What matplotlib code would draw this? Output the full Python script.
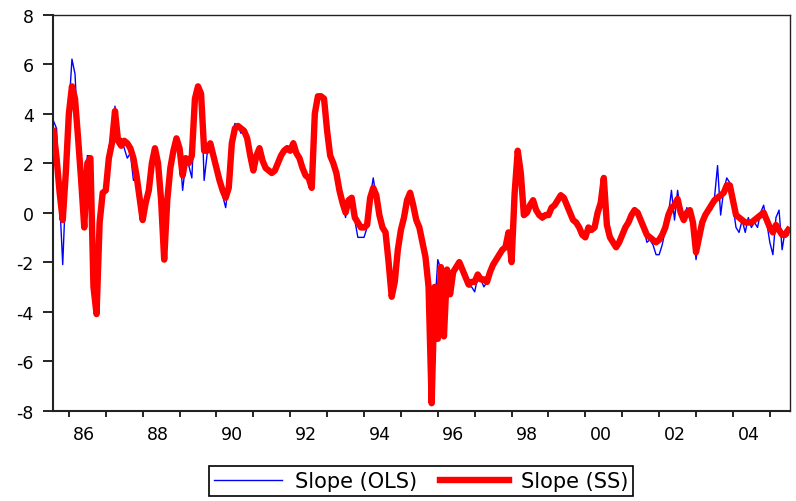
import matplotlib
matplotlib.use("Agg")
import matplotlib.pyplot as plt
import numpy as np

plt.rcParams['font.family'] = ['DejaVu Sans']
plt.rcParams['axes.unicode_minus'] = False

# Monthly observations, 1985:08 .. 2005:07
start_year, start_month = 1985, 8

ss_slope = [
    3.3, 2.2, 0.8, -0.3, 1.6,                                              # 1985 Aug-Dec
    4.0, 5.1, 4.6, 3.0, 1.3, -0.6, 2.0, 2.2, -3.0, -4.1, -0.4, 0.8,        # 1986
    0.9, 2.2, 2.8, 4.1, 2.9, 2.7, 2.9, 2.8, 2.6, 2.2, 1.5, 0.6,            # 1987
    -0.3, 0.4, 0.9, 2.0, 2.6, 2.0, 0.5, -1.9, 0.5, 1.8, 2.5, 3.0,          # 1988
    2.6, 1.5, 2.2, 2.0, 2.3, 4.6, 5.1, 4.8, 2.5, 2.5, 2.8, 2.3,            # 1989
    1.8, 1.3, 0.9, 0.6, 1.0, 2.8, 3.4, 3.5, 3.4, 3.3, 3.0, 2.3,            # 1990
    1.7, 2.3, 2.6, 2.1, 1.8, 1.7, 1.6, 1.7, 2.0, 2.3, 2.5, 2.6,            # 1991
    2.5, 2.8, 2.4, 2.2, 1.8, 1.5, 1.4, 1.0, 4.0, 4.7, 4.7, 4.6,            # 1992
    3.3, 2.3, 2.0, 1.6, 0.9, 0.4, 0.0, 0.5, 0.6, -0.2, -0.4, -0.6,         # 1993
    -0.6, -0.5, 0.6, 1.0, 0.7, -0.1, -0.6, -0.8, -2.0, -3.4, -2.8, -1.5,   # 1994
    -0.7, -0.2, 0.5, 0.8, 0.3, -0.3, -0.6, -1.2, -1.8, -3.0, -7.7, -3.0,   # 1995
    -5.1, -2.2, -5.0, -2.3, -3.3, -2.4, -2.2, -2.0, -2.3, -2.6, -2.9, -2.8,  # 1996
    -2.8, -2.5, -2.7, -2.7, -2.8, -2.4, -2.1, -1.9, -1.7, -1.5, -1.4, -0.8,  # 1997
    -2.0, 0.8, 2.5, 1.6, -0.1, 0.0, 0.3, 0.5, 0.1, -0.1, -0.2, -0.1,       # 1998
    -0.1, 0.2, 0.3, 0.5, 0.7, 0.6, 0.3, 0.0, -0.3, -0.4, -0.6, -0.9,       # 1999
    -1.0, -0.6, -0.7, -0.6, 0.0, 0.4, 1.4, -0.5, -1.0, -1.2, -1.4, -1.2,   # 2000
    -0.9, -0.6, -0.4, -0.1, 0.1, 0.0, -0.3, -0.6, -0.9, -1.0, -1.1, -1.2,  # 2001
    -1.1, -0.9, -0.6, -0.1, 0.2, 0.3, 0.55, 0.0, -0.3, 0.0, 0.1, -0.4,     # 2002
    -1.6, -1.0, -0.4, -0.1, 0.1, 0.3, 0.5, 0.6, 0.7, 0.8, 1.1, 1.1,        # 2003
    0.5, -0.1, -0.2, -0.3, -0.4, -0.4, -0.4, -0.3, -0.2, -0.1, 0.0, -0.3,  # 2004
    -0.6, -0.8, -0.5, -0.7, -0.9, -0.9, -0.7,                              # 2005 Jan-Jul
]

ols_slope = [
    3.7, 3.4, 0.5, -2.1, 1.0,                                              # 1985 Aug-Dec
    4.2, 6.2, 5.6, 3.0, 1.0, -0.6, 2.3, 2.3, -2.9, -4.1, -0.4, 0.7,        # 1986
    1.0, 2.7, 2.7, 4.3, 2.9, 3.0, 2.6, 2.2, 2.4, 1.3, 1.4, 0.6,            # 1987
    -0.3, 0.4, 0.6, 2.0, 2.6, 1.3, 0.5, -1.9, 0.6, 1.9, 2.3, 3.0,          # 1988
    2.6, 0.9, 2.0, 1.9, 1.4, 4.2, 5.0, 4.9, 1.3, 2.4, 2.8, 2.3,            # 1989
    1.8, 1.1, 0.7, 0.2, 1.2, 3.0, 3.6, 3.5, 3.2, 3.4, 2.9, 2.3,            # 1990
    1.7, 2.4, 2.7, 2.2, 1.8, 1.7, 1.5, 1.7, 2.0, 2.4, 2.6, 2.7,            # 1991
    2.6, 2.9, 2.6, 2.2, 1.8, 1.5, 1.4, 1.0, 3.9, 4.7, 4.7, 4.6,            # 1992
    3.4, 2.6, 2.1, 1.6, 0.9, 0.4, -0.2, 0.5, 0.6, -0.3, -1.0, -1.0,        # 1993
    -1.0, -0.6, 0.6, 1.4, 0.6, -0.1, -0.6, -0.8, -2.0, -3.4, -2.8, -1.5,   # 1994
    -0.6, -0.2, 0.6, 0.9, 0.3, -0.5, -0.8, -1.3, -2.0, -3.0, -7.7, -3.9,   # 1995
    -1.9, -2.3, -5.0, -2.3, -3.3, -2.5, -2.3, -2.1, -2.3, -2.7, -3.0, -3.0,  # 1996
    -3.2, -2.6, -2.7, -3.0, -2.8, -2.5, -2.1, -1.9, -1.7, -1.5, -1.4, -0.8,  # 1997
    -2.0, 0.8, 2.5, 1.6, -0.2, -0.1, 0.2, 0.5, 0.0, -0.2, -0.3, -0.2,      # 1998
    -0.1, 0.1, 0.3, 0.5, 0.8, 0.6, 0.2, -0.1, -0.3, -0.5, -0.6, -0.9,      # 1999
    -1.0, -0.6, -0.6, -0.5, 0.1, 0.6, 1.4, -0.4, -1.0, -1.2, -1.3, -1.1,   # 2000
    -0.9, -0.6, -0.4, -0.1, 0.2, 0.0, -0.3, -0.6, -1.2, -1.1, -1.3, -1.7,  # 2001
    -1.7, -1.3, -0.7, -0.1, 0.9, -0.3, 0.9, 0.0, -0.4, 0.2, 0.0, -0.6,     # 2002
    -1.9, -1.0, -0.3, -0.1, 0.2, 0.1, 0.6, 1.9, -0.1, 0.9, 1.4, 1.2,       # 2003
    0.3, -0.6, -0.8, -0.3, -0.8, -0.2, -0.6, -0.4, -0.6, 0.0, 0.3, -0.4,   # 2004
    -1.2, -1.7, -0.2, 0.1, -1.5, -0.7, -0.9,                               # 2005 Jan-Jul
]

year_ticks = list(range(1986, 2006))
year_labels = ['86', '88', '90', '92', '94', '96', '98', '00', '02', '04']
label_years = list(range(1986, 2005, 2))
y_ticks = [-8, -6, -4, -2, 0, 2, 4, 6, 8]

t = start_year + (start_month - 1) / 12 + np.arange(len(ss_slope)) / 12

fig = plt.figure(figsize=(7.96, 5.02), dpi=100)
ax = fig.add_axes([0.0666, 0.18, 0.926, 0.789])

ax.plot(t, ols_slope, color='#0000ff', lw=1.0, label='Slope (OLS)', zorder=2)
ax.plot(t, ss_slope, color='#ff0000', lw=4.6, label='Slope (SS)', zorder=3)

ax.set_xlim(1985.57, 2005.55)
ax.set_ylim(-8, 8)

ax.set_yticks(y_ticks)
ax.set_yticklabels([str(v) for v in y_ticks])
ax.set_xticks(year_ticks)
ax.set_xticklabels([])
ax.set_xticks([y + 0.42 for y in label_years], minor=True)
ax.set_xticklabels(year_labels, minor=True)

ax.tick_params(axis='y', which='major', direction='out', length=7, width=1.2,
               labelsize=12.5, pad=7, colors='black')
ax.tick_params(axis='x', which='major', direction='out', length=4.5, width=1.2,
               colors='black')
ax.tick_params(axis='x', which='minor', length=0, labelsize=12.5, pad=10,
               colors='black')

for side in ['left', 'bottom']:
    ax.spines[side].set_linewidth(1.5)
for side in ['top', 'right']:
    ax.spines[side].set_linewidth(1.0)
for s in ax.spines.values():
    s.set_color('#222222')

leg = fig.legend(loc='center', bbox_to_anchor=(0.529, 0.04), ncol=2,
                 frameon=True, fancybox=False, shadow=False, fontsize=15,
                 handlelength=3.3, handletextpad=0.6, columnspacing=1.1,
                 borderpad=0.22, borderaxespad=0.0, edgecolor='black',
                 framealpha=1)
leg.get_frame().set_linewidth(1.2)

fig.savefig('out.png', dpi=100)
